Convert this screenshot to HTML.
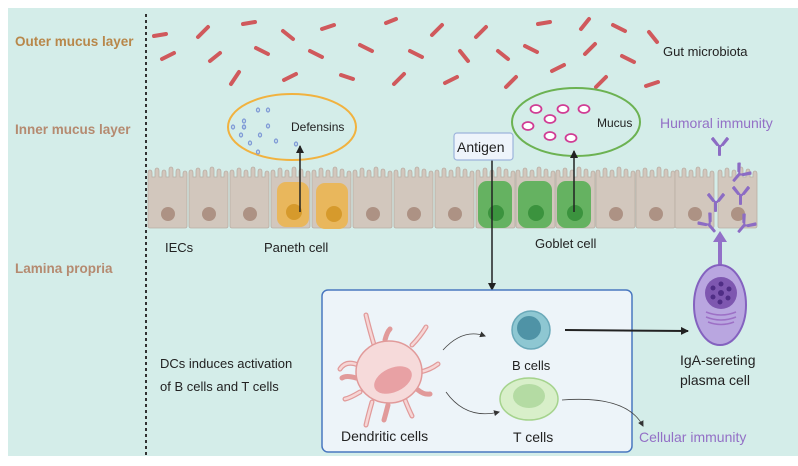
<!DOCTYPE html>
<html><head><meta charset="utf-8"><style>
html,body{margin:0;padding:0;background:#fff;}
svg{display:block;font-family:"Liberation Sans",sans-serif;}
</style></head><body>
<svg width="798" height="466" viewBox="0 0 798 466" xmlns="http://www.w3.org/2000/svg">
<defs>
<marker id="ah" markerWidth="8" markerHeight="8" refX="7" refY="4" orient="auto" markerUnits="userSpaceOnUse"><path d="M0,0 L8,4 L0,8 z" fill="#222"/></marker>
<marker id="ahs" markerWidth="6" markerHeight="6" refX="5" refY="3" orient="auto" markerUnits="userSpaceOnUse"><path d="M0,0 L6,3 L0,6 z" fill="#333"/></marker>
<g id="cell">
<path d="M0,14 v-9 q0,-3 2,-3 q2,0 2,3 v4 h3 v-6 q0,-3 2,-3 q2,0 2,3 v6 h3 v-4 q0,-3 2,-3 q2,0 2,3 v4 h3 v-7 q0,-3 2,-3 q2,0 2,3 v7 h3 v-5 q0,-3 2,-3 q2,0 2,3 v5 h3 v-3 q0,-3 2,-3 q2,0 2,3 v3 V58 q0,2 -2,2 H2 q-2,0 -2,-2 z" fill="#d2c7bd" stroke="#b9aea4" stroke-width="0.8"/>
</g>
<g id="ab" stroke="#8c6cc4" stroke-width="2" fill="none" stroke-linecap="round">
<path d="M0,0 v9 M-1,0 v9 M-1,0 l-6,-8 M1,0 l6,-8 M-3,-1 l-5,-6 M3,-1 l5,-6"/>
</g>
</defs>
<rect x="8" y="8" width="790" height="448" fill="#d4ede9"/>
<line x1="146" y1="14" x2="146" y2="456" stroke="#333" stroke-width="2" stroke-dasharray="3,3"/>
<g font-weight="bold" font-size="13.5">
<text x="15" y="46" fill="#b8874a">Outer mucus layer</text>
<text x="15" y="134" fill="#b58a70">Inner mucus layer</text>
<text x="15" y="273" fill="#b58a70">Lamina propria</text>
</g>
<g stroke="#d0595c" stroke-width="4" stroke-linecap="round">
<line x1="154" y1="36" x2="166" y2="34"/><line x1="198" y1="37" x2="208" y2="27"/><line x1="243" y1="24" x2="255" y2="22"/>
<line x1="283" y1="31" x2="293" y2="39"/><line x1="322" y1="29" x2="334" y2="25"/><line x1="386" y1="23" x2="396" y2="19"/>
<line x1="432" y1="35" x2="442" y2="25"/><line x1="476" y1="37" x2="486" y2="27"/><line x1="538" y1="24" x2="550" y2="22"/>
<line x1="581" y1="29" x2="589" y2="19"/><line x1="613" y1="25" x2="625" y2="31"/><line x1="649" y1="32" x2="657" y2="42"/>
<line x1="162" y1="59" x2="174" y2="53"/><line x1="210" y1="61" x2="220" y2="53"/><line x1="256" y1="48" x2="268" y2="54"/>
<line x1="310" y1="51" x2="322" y2="57"/><line x1="360" y1="45" x2="372" y2="51"/><line x1="410" y1="51" x2="422" y2="57"/>
<line x1="460" y1="51" x2="468" y2="61"/><line x1="498" y1="51" x2="508" y2="59"/><line x1="525" y1="46" x2="537" y2="52"/>
<line x1="585" y1="54" x2="595" y2="44"/><line x1="622" y1="56" x2="634" y2="62"/><line x1="231" y1="84" x2="239" y2="72"/>
<line x1="284" y1="80" x2="296" y2="74"/><line x1="341" y1="75" x2="353" y2="79"/><line x1="394" y1="84" x2="404" y2="74"/>
<line x1="445" y1="83" x2="457" y2="77"/><line x1="506" y1="87" x2="516" y2="77"/><line x1="552" y1="71" x2="564" y2="65"/>
<line x1="596" y1="87" x2="606" y2="77"/><line x1="646" y1="86" x2="658" y2="82"/>
</g>
<text x="663" y="56" font-size="13" fill="#222">Gut microbiota</text>
<!-- cells -->
<g>
<use href="#cell" x="148" y="168"/><use href="#cell" x="189" y="168"/><use href="#cell" x="230" y="168"/>
<use href="#cell" x="271" y="168"/><use href="#cell" x="312" y="168"/><use href="#cell" x="353" y="168"/>
<use href="#cell" x="394" y="168"/><use href="#cell" x="435" y="168"/><use href="#cell" x="476" y="168"/>
<use href="#cell" x="516" y="168"/><use href="#cell" x="556" y="168"/><use href="#cell" x="596" y="168"/>
<use href="#cell" x="636" y="168"/><use href="#cell" x="675" y="168"/><use href="#cell" x="718" y="168"/>
</g>
<g fill="#ad9284">
<circle cx="168" cy="214" r="7"/><circle cx="209" cy="214" r="7"/><circle cx="250" cy="214" r="7"/>
<circle cx="373" cy="214" r="7"/><circle cx="414" cy="214" r="7"/><circle cx="455" cy="214" r="7"/>
<circle cx="616" cy="214" r="7"/><circle cx="656" cy="214" r="7"/><circle cx="695" cy="214" r="7"/><circle cx="738" cy="214" r="7"/>
</g>
<rect x="277" y="182" width="32" height="45" rx="9" fill="#ebb551" opacity="0.9"/>
<rect x="316" y="183" width="32" height="46" rx="9" fill="#ebb551" opacity="0.9"/>
<circle cx="294" cy="212" r="8" fill="#d69a2c"/><circle cx="334" cy="214" r="8" fill="#d69a2c"/>
<rect x="478" y="181" width="34" height="47" rx="9" fill="#5fb15c" opacity="0.95"/>
<rect x="518" y="181" width="34" height="47" rx="9" fill="#5fb15c" opacity="0.95"/>
<rect x="557" y="181" width="34" height="47" rx="9" fill="#5fb15c" opacity="0.95"/>
<circle cx="496" cy="213" r="8" fill="#3b933e"/><circle cx="536" cy="213" r="8" fill="#3b933e"/><circle cx="575" cy="213" r="8" fill="#3b933e"/>
<text x="165" y="252" font-size="13" fill="#222">IECs</text>
<text x="264" y="252" font-size="13" fill="#222">Paneth cell</text>
<text x="535" y="248" font-size="13" fill="#222">Goblet cell</text>
<!-- defensins -->
<ellipse cx="292" cy="127" rx="64" ry="33" fill="none" stroke="#f1b23f" stroke-width="2"/>
<g fill="none" stroke="#7f9ad6" stroke-width="1.3">
<ellipse cx="258" cy="110" rx="1.5" ry="2"/><ellipse cx="268" cy="110" rx="1.5" ry="2"/><ellipse cx="244" cy="127" rx="1.5" ry="2"/>
<ellipse cx="244" cy="127" rx="1.5" ry="2"/><ellipse cx="233" cy="127" rx="1.5" ry="2"/><ellipse cx="268" cy="126" rx="1.5" ry="2"/>
<ellipse cx="241" cy="135" rx="1.5" ry="2"/><ellipse cx="260" cy="135" rx="1.5" ry="2"/><ellipse cx="250" cy="143" rx="1.5" ry="2"/>
<ellipse cx="276" cy="141" rx="1.5" ry="2"/><ellipse cx="296" cy="144" rx="1.5" ry="2"/><ellipse cx="258" cy="152" rx="1.5" ry="2"/>
<ellipse cx="244" cy="121" rx="1.5" ry="2"/>
</g>
<text x="291" y="131" font-size="12" fill="#222">Defensins</text>
<line x1="300" y1="212" x2="300" y2="146" stroke="#222" stroke-width="1.5" marker-end="url(#ah)"/>
<!-- mucus -->
<ellipse cx="576" cy="122" rx="64" ry="34" fill="none" stroke="#6cb252" stroke-width="2"/>
<g fill="#fff" stroke="#d03c94" stroke-width="1.8">
<ellipse cx="536" cy="109" rx="5.5" ry="4"/><ellipse cx="563" cy="109" rx="5.5" ry="4"/><ellipse cx="584" cy="109" rx="5.5" ry="4"/>
<ellipse cx="550" cy="119" rx="5.5" ry="4"/><ellipse cx="528" cy="126" rx="5.5" ry="4"/><ellipse cx="550" cy="136" rx="5.5" ry="4"/><ellipse cx="571" cy="138" rx="5.5" ry="4"/>
</g>
<text x="597" y="127" font-size="12" fill="#222">Mucus</text>
<line x1="574" y1="212" x2="574" y2="151" stroke="#222" stroke-width="1.5" marker-end="url(#ah)"/>
<!-- antigen -->
<line x1="492" y1="160" x2="492" y2="290" stroke="#222" stroke-width="1.5" marker-end="url(#ah)"/>
<rect x="454" y="133" width="59" height="27" rx="3" fill="#eef4fb" stroke="#9db4dc" stroke-width="1.2"/>
<text x="457" y="152" font-size="14" fill="#222">Antigen</text>
<!-- humoral -->
<text x="660" y="128" font-size="14" fill="#9370c6">Humoral immunity</text>
<use href="#ab" x="720" y="146"/>
<use href="#ab" x="740" y="174" transform="rotate(40 740 174)"/>
<use href="#ab" x="741" y="195"/>
<use href="#ab" x="716" y="202"/>
<use href="#ab" x="709" y="224" transform="rotate(-40 709 224)"/>
<use href="#ab" x="745" y="225" transform="rotate(40 745 225)"/>
<path d="M718,266 V242 h-5 l7,-11 l7,11 h-5 V266z" fill="#9270c8"/>
<!-- plasma cell -->
<ellipse cx="720" cy="305" rx="26" ry="40" fill="#b9a6e0" stroke="#8462bf" stroke-width="2"/>
<circle cx="721" cy="293" r="16" fill="#7e57b0"/>
<g fill="#4f2d85"><circle cx="721" cy="293" r="3"/><circle cx="721" cy="284" r="2.5"/><circle cx="729" cy="289" r="2.5"/><circle cx="728" cy="298" r="2.5"/><circle cx="720" cy="302" r="2.5"/><circle cx="713" cy="297" r="2.5"/><circle cx="713" cy="288" r="2.5"/></g>
<g fill="none" stroke="#9d70c6" stroke-width="1.5"><path d="M706,312 q15,6 30,0"/><path d="M706,317 q15,6 30,0"/><path d="M708,322 q13,5 26,0"/></g>
<text x="680" y="365" font-size="14" fill="#222">IgA-sereting</text>
<text x="680" y="385" font-size="14" fill="#222">plasma cell</text>
<!-- box -->
<rect x="322" y="290" width="310" height="162" rx="6" fill="#edf4f9" stroke="#4a78c0" stroke-width="1.5"/>
<text x="160" y="368" font-size="13" fill="#222">DCs induces activation</text>
<text x="160" y="391" font-size="13" fill="#222">of B cells and T cells</text>
<!-- dendritic cell -->
<g stroke="#e19a9a" stroke-width="5" fill="none" stroke-linecap="round">
<path d="M375,348 q-6,-20 -9,-33"/><path d="M385,340 q2,-8 5,-11"/><path d="M412,345 q8,-8 14,-18"/>
<path d="M358,365 q-12,-5 -18,4"/><path d="M356,378 q-10,-3 -14,0"/><path d="M360,392 q-10,6 -15,7"/>
<path d="M372,402 q-4,14 -6,23"/><path d="M388,405 q-2,8 -4,15"/><path d="M405,400 q4,10 7,16"/>
<path d="M418,390 q6,5 12,4"/><path d="M420,372 q10,-2 18,-8"/>
</g>
<g stroke="#f6d6d6" stroke-width="2.5" fill="none" stroke-linecap="round">
<path d="M375,348 q-6,-20 -9,-33"/><path d="M412,345 q8,-8 14,-18"/><path d="M358,365 q-12,-5 -18,4"/><path d="M360,392 q-10,6 -15,7"/>
<path d="M372,402 q-4,14 -6,23"/><path d="M405,400 q4,10 7,16"/><path d="M420,372 q10,-2 18,-8"/>
</g>
<ellipse cx="389" cy="372" rx="33" ry="31" fill="#f6dada" stroke="#e19a9a" stroke-width="1.5"/>
<ellipse cx="393" cy="380" rx="20" ry="12" transform="rotate(-25 393 380)" fill="#e8a1a4"/>
<text x="341" y="441" font-size="14" fill="#222">Dendritic cells</text>
<path d="M443,350 q20,-22 42,-14" fill="none" stroke="#444" stroke-width="0.8" marker-end="url(#ahs)"/>
<path d="M446,392 q20,28 53,20" fill="none" stroke="#444" stroke-width="0.8" marker-end="url(#ahs)"/>
<!-- B cell -->
<circle cx="531" cy="330" r="19" fill="#8ec7d2" stroke="#6aa9b9" stroke-width="1.5"/>
<circle cx="529" cy="328" r="12" fill="#4f93a6"/>
<text x="512" y="370" font-size="13" fill="#222">B cells</text>
<line x1="565" y1="330" x2="688" y2="331" stroke="#222" stroke-width="2" marker-end="url(#ah)"/>
<!-- T cell -->
<ellipse cx="529" cy="399" rx="29" ry="21" fill="#d8efc9" stroke="#a5d38d" stroke-width="1.5"/>
<ellipse cx="529" cy="396" rx="16" ry="12" fill="#b4dba3"/>
<text x="513" y="442" font-size="14" fill="#222">T cells</text>
<path d="M562,400 q65,-5 81,26" fill="none" stroke="#444" stroke-width="0.8" marker-end="url(#ahs)"/>
<text x="639" y="442" font-size="14" fill="#9370c6">Cellular immunity</text>
</svg>
</body></html>
